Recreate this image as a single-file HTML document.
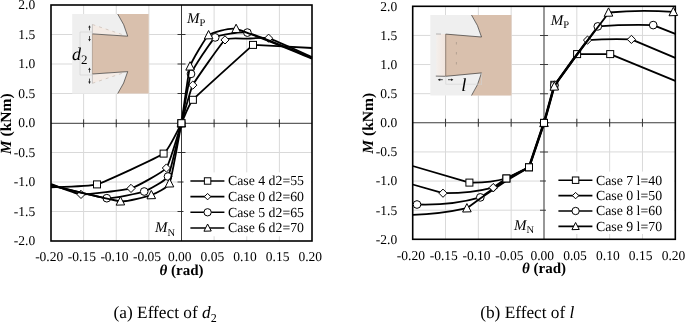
<!DOCTYPE html>
<html><head><meta charset="utf-8"><title>Figure</title>
<style>
html,body{margin:0;padding:0;background:#fff;}
body{width:685px;height:322px;overflow:hidden;}
svg{display:block;text-rendering:geometricPrecision;font-family:'Liberation Serif', 'Times New Roman', serif;fill:#000;}
</style></head><body>
<svg width="685" height="322" viewBox="0 0 685 322">
<rect width="685" height="322" fill="#fff"/>
<path d="M83.62 5.00 V241.00 M51.00 34.50 H312.00 M116.25 5.00 V241.00 M51.00 64.00 H312.00 M148.88 5.00 V241.00 M51.00 93.50 H312.00 M214.12 5.00 V241.00 M51.00 152.50 H312.00 M246.75 5.00 V241.00 M51.00 182.00 H312.00 M279.38 5.00 V241.00 M51.00 211.50 H312.00" stroke="#d9d9d9" stroke-width="1" fill="none"/>
<g>
<rect x="72.2" y="14" width="76.5" height="79.6" fill="#efefef"/>
<path d="M117.7 14 A71 71 0 0 1 127.7 36.2 L92.4 33.9 L92.4 74 L127.7 71.6 A71 71 0 0 1 117.7 93.6 L148.7 93.6 L148.7 14 Z" fill="#d9c0ad"/>
<path d="M92.4 24.5 L126.5 36 L92.4 33.9 Z" fill="#f4ebe5"/>
<path d="M92.4 83.3 L126.5 71.8 L92.4 74 Z" fill="#f4ebe5"/>
<path d="M117.7 14 A71 71 0 0 1 127.7 36.2 L92.4 33.9 M92.4 74 L127.7 71.6 A71 71 0 0 1 117.7 93.6" fill="none" stroke="#1a1a1a" stroke-width="0.6"/>
<path d="M92.4 24.5 L126.5 36 M92.4 83.3 L126.5 71.8" stroke="#b9a79b" stroke-width="0.5" stroke-dasharray="3 4" fill="none"/>
<path d="M92.4 24.5 V33.9 M92.4 74 V83.3" stroke="#aaa" stroke-width="0.6" fill="none"/>
<path d="M92.4 33.9 V74" stroke="#8a7869" stroke-width="0.5" fill="none"/>
<path d="M80 32 H92 M80 32 V75 H92" stroke="#cdcdcd" stroke-width="0.6" fill="none"/>
<path d="M89.5 26 V30.3 M89.5 36 V40.5 M89.5 68.3 V72.6 M89.5 78.6 V83" stroke="#222" stroke-width="0.8" fill="none"/>
<path d="M88.2 27.6 L89.5 25.2 L90.8 27.6Z M88.2 39 L89.5 41.4 L90.8 39Z M88.2 69.9 L89.5 67.5 L90.8 69.9Z M88.2 81.5 L89.5 83.9 L90.8 81.5Z" fill="#222"/>
<text x="72" y="59.6" font-size="18" font-style="italic">d<tspan font-style="normal" font-size="13" dy="4.2">2</tspan></text>
</g>
<path d="M181.50 5.00 V241.00 M51.00 123.30 H312.00 M83.62 119.30 V127.30 M177.50 34.50 H185.50 M116.25 119.30 V127.30 M177.50 64.00 H185.50 M148.88 119.30 V127.30 M177.50 93.50 H185.50 M214.12 119.30 V127.30 M177.50 152.50 H185.50 M246.75 119.30 V127.30 M177.50 182.00 H185.50 M279.38 119.30 V127.30 M177.50 211.50 H185.50" stroke="#222" stroke-width="0.90" fill="none"/>
<rect x="183.50" y="172.40" width="127.50" height="63.90" fill="#fff"/>
<rect x="51.00" y="5.00" width="261.00" height="236.00" fill="none" stroke="#000" stroke-width="1.6"/>
<path d="M51.00 187.30 C53.88 187.12 89.96 186.51 97.00 184.40 C104.04 182.29 158.32 157.42 163.60 153.60 C168.88 149.78 179.57 126.56 181.40 123.20 C183.23 119.84 188.43 104.69 192.90 99.80 C197.38 94.91 253.00 44.90 253.00 44.90 C253.00 44.90 308.31 47.81 312.00 48.00" fill="none" stroke="#000" stroke-width="1.80" stroke-linejoin="round"/>
<rect x="93.50" y="180.90" width="7.00" height="7.00" fill="#fff" stroke="#000" stroke-width="1"/>
<rect x="160.10" y="150.10" width="7.00" height="7.00" fill="#fff" stroke="#000" stroke-width="1"/>
<rect x="177.90" y="119.70" width="7.00" height="7.00" fill="#fff" stroke="#000" stroke-width="1"/>
<rect x="189.40" y="96.30" width="7.00" height="7.00" fill="#fff" stroke="#000" stroke-width="1"/>
<rect x="249.50" y="41.40" width="7.00" height="7.00" fill="#fff" stroke="#000" stroke-width="1"/>
<path d="M51.00 184.00 C52.88 184.65 76.00 194.12 81.00 194.40 C86.00 194.68 125.66 190.05 131.00 188.40 C136.34 186.75 163.25 172.07 166.40 168.00 C169.55 163.93 179.75 128.38 181.40 123.20 C183.05 118.02 190.08 90.31 192.80 85.10 C195.53 79.89 221.61 42.80 225.00 39.90 C228.39 37.00 244.28 38.81 247.00 38.70 C249.72 38.59 264.54 37.05 268.60 38.20 C272.66 39.35 309.29 55.92 312.00 57.10" fill="none" stroke="#000" stroke-width="1.80" stroke-linejoin="round"/>
<path d="M81.00 190.30 L85.10 194.40 L81.00 198.50 L76.90 194.40Z" fill="#fff" stroke="#000" stroke-width="1"/>
<path d="M131.00 184.30 L135.10 188.40 L131.00 192.50 L126.90 188.40Z" fill="#fff" stroke="#000" stroke-width="1"/>
<path d="M166.40 163.90 L170.50 168.00 L166.40 172.10 L162.30 168.00Z" fill="#fff" stroke="#000" stroke-width="1"/>
<path d="M181.40 119.10 L185.50 123.20 L181.40 127.30 L177.30 123.20Z" fill="#fff" stroke="#000" stroke-width="1"/>
<path d="M192.80 81.00 L196.90 85.10 L192.80 89.20 L188.70 85.10Z" fill="#fff" stroke="#000" stroke-width="1"/>
<path d="M225.00 35.80 L229.10 39.90 L225.00 44.00 L220.90 39.90Z" fill="#fff" stroke="#000" stroke-width="1"/>
<path d="M268.60 34.10 L272.70 38.20 L268.60 42.30 L264.50 38.20Z" fill="#fff" stroke="#000" stroke-width="1"/>
<path d="M51.00 185.00 C54.49 185.82 100.97 197.79 106.80 198.20 C112.62 198.61 140.38 192.86 144.20 191.50 C148.02 190.14 165.68 180.77 168.00 176.50 C170.32 172.23 179.96 129.61 181.40 123.20 C182.84 116.79 188.89 79.26 191.00 73.90 C193.11 68.54 211.67 39.98 215.20 37.40 C218.72 34.82 241.35 31.32 247.40 32.60 C253.45 33.88 307.96 56.32 312.00 57.90" fill="none" stroke="#000" stroke-width="1.80" stroke-linejoin="round"/>
<circle cx="106.80" cy="198.20" r="3.85" fill="#fff" stroke="#000" stroke-width="1"/>
<circle cx="144.20" cy="191.50" r="3.85" fill="#fff" stroke="#000" stroke-width="1"/>
<circle cx="168.00" cy="176.50" r="3.85" fill="#fff" stroke="#000" stroke-width="1"/>
<circle cx="181.40" cy="123.20" r="3.85" fill="#fff" stroke="#000" stroke-width="1"/>
<circle cx="191.00" cy="73.90" r="3.85" fill="#fff" stroke="#000" stroke-width="1"/>
<circle cx="215.20" cy="37.40" r="3.85" fill="#fff" stroke="#000" stroke-width="1"/>
<circle cx="247.40" cy="32.60" r="3.85" fill="#fff" stroke="#000" stroke-width="1"/>
<path d="M51.00 185.60 C55.34 186.58 114.13 200.71 120.40 201.30 C126.67 201.89 148.23 196.12 151.30 195.00 C154.37 193.88 167.62 187.79 169.50 183.30 C171.38 178.81 180.11 130.51 181.40 123.20 C182.69 115.89 188.40 71.81 190.10 66.30 C191.80 60.79 205.72 37.44 208.60 35.10 C211.47 32.76 229.64 27.33 236.10 28.80 C242.56 30.27 307.26 56.74 312.00 58.60" fill="none" stroke="#000" stroke-width="1.80" stroke-linejoin="round"/>
<path d="M120.40 196.70 L124.70 204.90 L116.10 205.15Z" fill="#fff" stroke="#000" stroke-width="1"/>
<path d="M151.30 190.40 L155.60 198.60 L147.00 198.85Z" fill="#fff" stroke="#000" stroke-width="1"/>
<path d="M169.50 178.70 L173.80 186.90 L165.20 187.15Z" fill="#fff" stroke="#000" stroke-width="1"/>
<path d="M181.40 118.60 L185.70 126.80 L177.10 127.05Z" fill="#fff" stroke="#000" stroke-width="1"/>
<path d="M190.10 61.70 L194.40 69.90 L185.80 70.15Z" fill="#fff" stroke="#000" stroke-width="1"/>
<path d="M208.60 30.50 L212.90 38.70 L204.30 38.95Z" fill="#fff" stroke="#000" stroke-width="1"/>
<path d="M236.10 24.20 L240.40 32.40 L231.80 32.65Z" fill="#fff" stroke="#000" stroke-width="1"/>
<rect x="177.90" y="119.70" width="7.00" height="7.00" fill="#fff" stroke="#000" stroke-width="1"/>
<text x="35.20" y="9.40" text-anchor="end" font-size="13.5">2.0</text>
<text x="35.20" y="38.90" text-anchor="end" font-size="13.5">1.5</text>
<text x="35.20" y="68.40" text-anchor="end" font-size="13.5">1.0</text>
<text x="35.20" y="97.90" text-anchor="end" font-size="13.5">0.5</text>
<text x="35.20" y="127.40" text-anchor="end" font-size="13.5">0.0</text>
<text x="35.20" y="156.90" text-anchor="end" font-size="13.5">-0.5</text>
<text x="35.20" y="186.40" text-anchor="end" font-size="13.5">-1.0</text>
<text x="35.20" y="215.90" text-anchor="end" font-size="13.5">-1.5</text>
<text x="35.20" y="245.40" text-anchor="end" font-size="13.5">-2.0</text>
<text x="49.20" y="261.40" text-anchor="middle" font-size="13.5">-0.20</text>
<text x="81.83" y="261.40" text-anchor="middle" font-size="13.5">-0.15</text>
<text x="114.45" y="261.40" text-anchor="middle" font-size="13.5">-0.10</text>
<text x="147.07" y="261.40" text-anchor="middle" font-size="13.5">-0.05</text>
<text x="179.70" y="261.40" text-anchor="middle" font-size="13.5">0.00</text>
<text x="212.32" y="261.40" text-anchor="middle" font-size="13.5">0.05</text>
<text x="244.95" y="261.40" text-anchor="middle" font-size="13.5">0.10</text>
<text x="277.57" y="261.40" text-anchor="middle" font-size="13.5">0.15</text>
<text x="310.20" y="261.40" text-anchor="middle" font-size="13.5">0.20</text>
<text x="181.60" y="275.40" text-anchor="middle" font-size="15" font-weight="bold"><tspan font-style="italic">θ</tspan> (rad)</text>
<text transform="translate(11.30 123.80) rotate(-90)" text-anchor="middle" font-size="15.5" font-weight="bold"><tspan font-style="italic">M</tspan> (kNm)</text>
<text x="187.00" y="22.60" font-size="15" font-style="italic">M<tspan font-style="normal" font-size="10.5" dy="3.4">P</tspan></text>
<text x="155.00" y="232.40" font-size="15" font-style="italic">M<tspan font-style="normal" font-size="10.5" dy="3.4">N</tspan></text>
<path d="M190.40 181.00 H224.40" stroke="#000" stroke-width="1.60"/>
<rect x="204.38" y="177.78" width="6.44" height="6.44" fill="#fff" stroke="#000" stroke-width="1"/>
<text x="228.00" y="185.40" font-size="13.8">Case 4 d2=55</text>
<path d="M190.40 196.65 H224.40" stroke="#000" stroke-width="1.60"/>
<path d="M207.60 193.45 L210.80 196.65 L207.60 199.85 L204.40 196.65Z" fill="#fff" stroke="#000" stroke-width="1"/>
<text x="228.00" y="201.05" font-size="13.8">Case 0 d2=60</text>
<path d="M190.40 212.30 H224.40" stroke="#000" stroke-width="1.60"/>
<circle cx="207.60" cy="212.30" r="3.66" fill="#fff" stroke="#000" stroke-width="1"/>
<text x="228.00" y="216.70" font-size="13.8">Case 5 d2=65</text>
<path d="M190.40 227.95 H224.40" stroke="#000" stroke-width="1.60"/>
<path d="M207.60 224.04 L211.25 231.01 L203.94 231.22Z" fill="#fff" stroke="#000" stroke-width="1"/>
<text x="228.00" y="232.35" font-size="13.8">Case 6 d2=70</text>
<path d="M445.52 6.30 V239.30 M412.70 35.42 H675.30 M478.35 6.30 V239.30 M412.70 64.55 H675.30 M511.17 6.30 V239.30 M412.70 93.67 H675.30 M576.82 6.30 V239.30 M412.70 151.93 H675.30 M609.65 6.30 V239.30 M412.70 181.05 H675.30 M642.47 6.30 V239.30 M412.70 210.18 H675.30" stroke="#d9d9d9" stroke-width="1" fill="none"/>
<g>
<rect x="430.3" y="15" width="81.2" height="80.5" fill="#efefef"/>
<defs><linearGradient id="lg1" x1="0" x2="1" y1="0" y2="0"><stop offset="0" stop-color="#f4efec"/><stop offset="1" stop-color="#f1e4dc"/></linearGradient></defs><rect x="436.3" y="34" width="9.6" height="42.3" fill="url(#lg1)"/>
<path d="M471.5 15 A71 71 0 0 1 481.5 37 L445.7 34.1 L445.7 76.3 L481.5 72.9 A71 71 0 0 1 471.5 95.5 L511.5 95.5 L511.5 15 Z" fill="#d9c0ad"/>
<path d="M471.5 15 A71 71 0 0 1 481.5 37 L445.7 34.1 M445.7 76.3 L481.5 72.9 A71 71 0 0 1 471.5 95.5 M435.8 76.1 L445.7 76.3 " fill="none" stroke="#1a1a1a" stroke-width="0.6"/>
<path d="M436 34 L441 34.05" fill="none" stroke="#777" stroke-width="0.5"/>
<path d="M445.7 34.1 V76.3" stroke="#5a4a40" stroke-width="0.6" fill="none"/>
<path d="M456.4 42 V72" stroke="#a39385" stroke-width="0.7" stroke-dasharray="2.5 7.5" fill="none"/>
<path d="M445.7 76.3 V84.2 H481 M481.5 73 V85" stroke="#d2d2d2" stroke-width="0.6" fill="none"/>
<path d="M438.6 79.7 H442.8 M448 79.7 H452.6" stroke="#222" stroke-width="0.8" fill="none"/>
<path d="M440.2 78.4 L437.8 79.7 L440.2 81Z M451 78.4 L453.4 79.7 L451 81Z" fill="#222"/>
<text x="461.2" y="90.6" font-size="18.5" font-style="italic">l</text>
</g>
<path d="M544.00 6.30 V239.30 M412.70 122.80 H675.30 M445.52 118.80 V126.80 M540.00 35.42 H548.00 M478.35 118.80 V126.80 M540.00 64.55 H548.00 M511.17 118.80 V126.80 M540.00 93.67 H548.00 M576.82 118.80 V126.80 M540.00 151.93 H548.00 M609.65 118.80 V126.80 M540.00 181.05 H548.00 M642.47 118.80 V126.80 M540.00 210.18 H548.00" stroke="#3c3c3c" stroke-width="1.05" fill="none"/>
<rect x="545.90" y="171.60" width="128.50" height="62.40" fill="#fff"/>
<rect x="412.70" y="6.30" width="262.60" height="233.00" fill="none" stroke="#000" stroke-width="1.6"/>
<path d="M412.70 166.00 L469.40 182.60 Q490.00 183.00 506.00 178.50 L528.60 167.30 L543.60 122.90 L553.90 85.70 L576.70 54.10 L610.20 54.10 L675.30 80.80" fill="none" stroke="#000" stroke-width="1.80" stroke-linejoin="round"/>
<rect x="465.90" y="179.10" width="7.00" height="7.00" fill="#fff" stroke="#000" stroke-width="1"/>
<rect x="502.90" y="175.00" width="7.00" height="7.00" fill="#fff" stroke="#000" stroke-width="1"/>
<rect x="525.50" y="163.80" width="7.00" height="7.00" fill="#fff" stroke="#000" stroke-width="1"/>
<rect x="540.50" y="119.40" width="7.00" height="7.00" fill="#fff" stroke="#000" stroke-width="1"/>
<rect x="550.80" y="81.30" width="7.00" height="7.00" fill="#fff" stroke="#000" stroke-width="1"/>
<rect x="573.60" y="50.60" width="7.00" height="7.00" fill="#fff" stroke="#000" stroke-width="1"/>
<rect x="606.70" y="50.60" width="7.00" height="7.00" fill="#fff" stroke="#000" stroke-width="1"/>
<path d="M412.70 184.50 L443.00 193.20 Q470.00 193.50 493.07 187.60 L506.27 178.50 L528.87 167.30 L543.87 122.90 L554.17 85.70 L576.97 54.10 L587.37 40.10 Q609.00 38.70 631.40 39.40 L675.30 57.90" fill="none" stroke="#000" stroke-width="1.80" stroke-linejoin="round"/>
<path d="M443.00 189.10 L447.10 193.20 L443.00 197.30 L438.90 193.20Z" fill="#fff" stroke="#000" stroke-width="1"/>
<path d="M493.20 183.80 L497.30 187.90 L493.20 192.00 L489.10 187.90Z" fill="#fff" stroke="#000" stroke-width="1"/>
<path d="M544.00 118.80 L548.10 122.90 L544.00 127.00 L539.90 122.90Z" fill="#fff" stroke="#000" stroke-width="1"/>
<path d="M554.30 81.10 L558.40 85.20 L554.30 89.30 L550.20 85.20Z" fill="#fff" stroke="#000" stroke-width="1"/>
<path d="M587.50 36.00 L591.60 40.10 L587.50 44.20 L583.40 40.10Z" fill="#fff" stroke="#000" stroke-width="1"/>
<path d="M631.40 35.30 L635.50 39.40 L631.40 43.50 L627.30 39.40Z" fill="#fff" stroke="#000" stroke-width="1"/>
<path d="M412.70 204.70 L417.00 204.50 Q452.00 205.60 480.30 197.40 L507.00 179.30 L529.13 167.30 L544.13 122.90 L554.43 85.70 L577.23 54.10 L597.93 26.40 Q625.00 24.40 653.20 25.10 L675.30 33.90" fill="none" stroke="#000" stroke-width="1.80" stroke-linejoin="round"/>
<circle cx="417.00" cy="204.50" r="3.85" fill="#fff" stroke="#000" stroke-width="1"/>
<circle cx="480.30" cy="197.40" r="3.85" fill="#fff" stroke="#000" stroke-width="1"/>
<circle cx="544.00" cy="122.90" r="3.85" fill="#fff" stroke="#000" stroke-width="1"/>
<circle cx="554.30" cy="85.20" r="3.85" fill="#fff" stroke="#000" stroke-width="1"/>
<circle cx="597.80" cy="26.40" r="3.85" fill="#fff" stroke="#000" stroke-width="1"/>
<circle cx="653.20" cy="25.10" r="3.85" fill="#fff" stroke="#000" stroke-width="1"/>
<path d="M412.70 214.90 Q440.00 214.20 466.90 208.20 L480.90 198.00 L507.50 180.00 L529.40 167.30 L544.40 122.90 L554.70 85.70 L577.50 54.10 L608.90 12.50 Q640.00 9.40 673.30 11.90 L675.30 12.00" fill="none" stroke="#000" stroke-width="1.80" stroke-linejoin="round"/>
<path d="M466.90 203.60 L471.20 211.80 L462.60 212.05Z" fill="#fff" stroke="#000" stroke-width="1"/>
<path d="M544.00 118.30 L548.30 126.50 L539.70 126.75Z" fill="#fff" stroke="#000" stroke-width="1"/>
<path d="M554.30 81.80 L558.60 90.00 L550.00 90.25Z" fill="#fff" stroke="#000" stroke-width="1"/>
<path d="M608.50 7.90 L612.80 16.10 L604.20 16.35Z" fill="#fff" stroke="#000" stroke-width="1"/>
<path d="M673.30 7.30 L677.60 15.50 L669.00 15.75Z" fill="#fff" stroke="#000" stroke-width="1"/>
<path d="M493.20 183.50 L497.30 187.60 L493.20 191.70 L489.10 187.60Z" fill="#fff" stroke="#000" stroke-width="1"/>
<rect x="525.50" y="163.80" width="7.00" height="7.00" fill="#fff" stroke="#000" stroke-width="1"/>
<rect x="502.90" y="175.00" width="7.00" height="7.00" fill="#fff" stroke="#000" stroke-width="1"/>
<rect x="540.50" y="119.40" width="7.00" height="7.00" fill="#fff" stroke="#000" stroke-width="1"/>
<text x="397.20" y="10.70" text-anchor="end" font-size="13.5">2.0</text>
<text x="397.20" y="39.82" text-anchor="end" font-size="13.5">1.5</text>
<text x="397.20" y="68.95" text-anchor="end" font-size="13.5">1.0</text>
<text x="397.20" y="98.08" text-anchor="end" font-size="13.5">0.5</text>
<text x="397.20" y="127.20" text-anchor="end" font-size="13.5">0.0</text>
<text x="397.20" y="156.33" text-anchor="end" font-size="13.5">-0.5</text>
<text x="397.20" y="185.45" text-anchor="end" font-size="13.5">-1.0</text>
<text x="397.20" y="214.58" text-anchor="end" font-size="13.5">-1.5</text>
<text x="397.20" y="243.70" text-anchor="end" font-size="13.5">-2.0</text>
<text x="410.90" y="259.70" text-anchor="middle" font-size="13.5">-0.20</text>
<text x="443.72" y="259.70" text-anchor="middle" font-size="13.5">-0.15</text>
<text x="476.55" y="259.70" text-anchor="middle" font-size="13.5">-0.10</text>
<text x="509.37" y="259.70" text-anchor="middle" font-size="13.5">-0.05</text>
<text x="542.20" y="259.70" text-anchor="middle" font-size="13.5">0.00</text>
<text x="575.02" y="259.70" text-anchor="middle" font-size="13.5">0.05</text>
<text x="607.85" y="259.70" text-anchor="middle" font-size="13.5">0.10</text>
<text x="640.67" y="259.70" text-anchor="middle" font-size="13.5">0.15</text>
<text x="673.50" y="259.70" text-anchor="middle" font-size="13.5">0.20</text>
<text x="544.10" y="273.40" text-anchor="middle" font-size="15" font-weight="bold"><tspan font-style="italic">θ</tspan> (rad)</text>
<text transform="translate(372.80 123.30) rotate(-90)" text-anchor="middle" font-size="15.5" font-weight="bold"><tspan font-style="italic">M</tspan> (kNm)</text>
<text x="550.80" y="25.00" font-size="15" font-style="italic">M<tspan font-style="normal" font-size="10.5" dy="3.4">P</tspan></text>
<text x="513.90" y="230.00" font-size="15" font-style="italic">M<tspan font-style="normal" font-size="10.5" dy="3.4">N</tspan></text>
<path d="M558.40 180.20 H592.40" stroke="#000" stroke-width="1.60"/>
<rect x="572.38" y="176.98" width="6.44" height="6.44" fill="#fff" stroke="#000" stroke-width="1"/>
<text x="596.00" y="184.60" font-size="13.8">Case 7 l=40</text>
<path d="M558.40 195.60 H592.40" stroke="#000" stroke-width="1.60"/>
<path d="M575.60 192.40 L578.80 195.60 L575.60 198.80 L572.40 195.60Z" fill="#fff" stroke="#000" stroke-width="1"/>
<text x="596.00" y="200.00" font-size="13.8">Case 0 l=50</text>
<path d="M558.40 211.00 H592.40" stroke="#000" stroke-width="1.60"/>
<circle cx="575.60" cy="211.00" r="3.66" fill="#fff" stroke="#000" stroke-width="1"/>
<text x="596.00" y="215.40" font-size="13.8">Case 8 l=60</text>
<path d="M558.40 226.40 H592.40" stroke="#000" stroke-width="1.60"/>
<path d="M575.60 222.49 L579.25 229.46 L571.95 229.67Z" fill="#fff" stroke="#000" stroke-width="1"/>
<text x="596.00" y="230.80" font-size="13.8">Case 9 l=70</text>
<text x="113.6" y="318.1" font-size="17.3">(a) Effect of <tspan font-style="italic">d</tspan><tspan font-size="12" dy="3.6">2</tspan></text>
<text x="480.2" y="318.1" font-size="17.3">(b) Effect of <tspan font-style="italic">l</tspan></text>
</svg>
</body></html>
